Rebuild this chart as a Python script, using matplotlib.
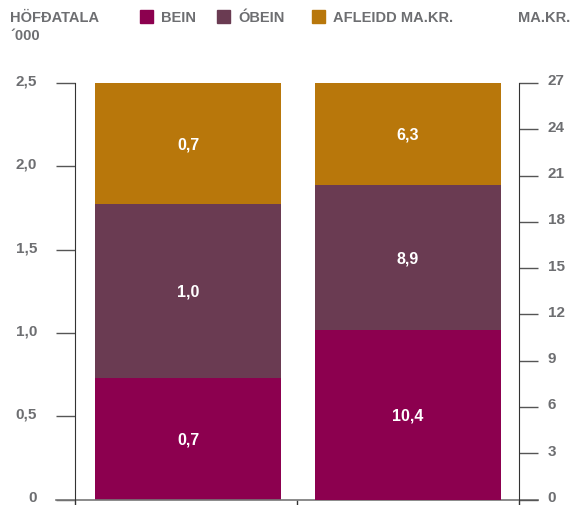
import matplotlib.pyplot as plt
from matplotlib.lines import Line2D
from matplotlib.patches import Rectangle
from matplotlib.transforms import ScaledTranslation

plt.rcParams['font.family'] = ['Liberation Sans', 'DejaVu Sans']

# data
series = ['BEIN', 'ÓBEIN', 'AFLEIDD MA.KR.']
colors = ['#8C004F', '#6A3B52', '#B8770B']
hofdatala = [0.7, 1.0, 0.7]      # ´000, left bar
makr = [10.4, 8.9, 6.3]          # ma.kr., right bar
left_ticks = [0, 0.5, 1.0, 1.5, 2.0, 2.5]
right_ticks = [0, 3, 6, 9, 12, 15, 18, 21, 24, 27]

grey = '#6D6E71'
fig = plt.figure(figsize=(5.75, 5.06), dpi=100)
ax = fig.add_axes([75/575, 1-500.5/506, 444/575, (500.5-84)/506])
ax2 = ax.twinx()

def stack(axis, xpos, vals, top):
    # bars fill the full height: each value as share of the total
    tot = sum(vals)
    bottom = 0
    for v, c in zip(vals, colors):
        h = v / tot * top
        axis.bar(xpos, h, bottom=bottom, width=0.84, color=c)
        axis.text(xpos, bottom + h/2, f'{v:.1f}'.replace('.', ','), color='white',
                  ha='center', va='center', fontsize=11.5, fontweight='bold')
        bottom += h

stack(ax, 0.51, hofdatala, 2.5)
stack(ax2, 1.5, makr, 27)

ax.set_xlim(0, 2)
ax.set_ylim(0, 2.5)
ax2.set_ylim(0, 27)
ax.set_yticks(left_ticks)
ax.set_yticklabels([f'{t:.1f}'.replace('.', ',') if t else '0' for t in left_ticks])
ax2.set_yticks(right_ticks)
ax2.set_yticklabels([str(t) for t in right_ticks])
ax.set_xticks([0, 1, 2])
ax.set_xticklabels([])

for a in (ax, ax2):
    for s in ('top', 'bottom'):
        a.spines[s].set_visible(False)
ax.spines['right'].set_visible(False)
ax2.spines['left'].set_visible(False)
ax.spines['left'].set_color('#333333')
ax2.spines['right'].set_color('#333333')
ax.tick_params(axis='y', length=13.7, width=1, color='#555555', pad=13.5,
               labelsize=11, labelcolor=grey)
ax2.tick_params(axis='y', length=13.7, width=1, color='#555555', pad=7,
                labelsize=11, labelcolor=grey)
ax.tick_params(axis='x', length=4.5, width=1, color='#333333')
up = ScaledTranslation(0, 4/100, fig.dpi_scale_trans)
for lab in ax.get_yticklabels() + ax2.get_yticklabels():
    lab.set_fontweight('bold')
    lab.set_transform(lab.get_transform() + up)

# bottom baseline extending past both spines
ax.add_line(Line2D([-19/444, 1 + 19/444], [0, 0], transform=ax.transAxes,
                   color='#777777', lw=1.2, clip_on=False))

# header texts and legend
hdr = dict(fontsize=10.5, fontweight='bold', color=grey, va='center')
fig.text(10/575, 1-18/506, 'HÖFÐATALA', **hdr)
fig.text(10/575, 1-36/506, '´000', **hdr)
fig.text(570/575, 1-18/506, 'MA.KR.', ha='right', **hdr)
leg_x = [140, 217, 312]
for x, name, c in zip(leg_x, series, colors):
    fig.patches.append(Rectangle((x/575, 1-24/506), 13/575, 13/506,
                                 transform=fig.transFigure, color=c))
    fig.text((x+21)/575, 1-18/506, name, **hdr)

fig.savefig('out.png', dpi=100)
